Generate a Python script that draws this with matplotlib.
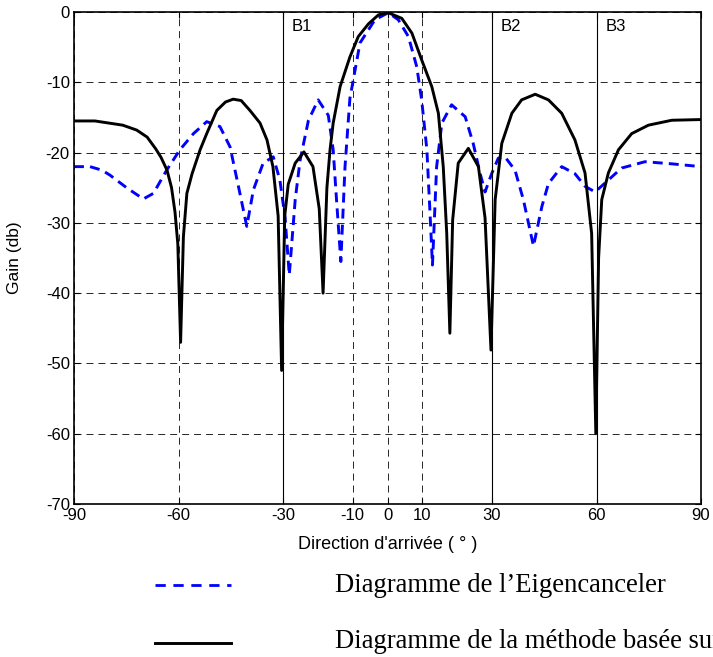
import matplotlib
matplotlib.use("Agg")
import matplotlib.pyplot as plt
from matplotlib.lines import Line2D

plt.rcParams['axes.unicode_minus'] = False

# angles (deg) and gain (dB)
black_deg = [-90, -84, -80, -76, -72, -69, -66.5, -65, -63.3, -62, -61, -60.2, -59.4, -58.6,
             -57.6, -56.1, -53.8, -51.9, -49, -46.5, -44.3, -42, -39.5, -36.6, -34.6, -32.9,
             -31.4, -30.4, -29.5, -28.5, -26.5, -24, -21.4, -19.6, -18.5, -17.4, -16.5, -15.6,
             -13.6, -10.8, -8.4, -5.5, -2.6, 0.2, 4.1, 7.0, 9.8, 12.7, 14.6, 16.0, 17.0, 17.9,
             18.7, 20.3, 23.2, 26.1, 28.0, 29.7, 30.9, 32.8, 35.7, 38.5, 42.4, 46.2, 50.0,
             53.8, 56.7, 58.6, 59.8, 60.6, 61.5, 63.4, 66.3, 70.1, 74.9, 81.6, 90]
black_db = [-15.5, -15.5, -15.8, -16.1, -16.8, -17.8, -19.5, -20.7, -22.5, -25, -28.5, -33, -47,
            -32, -25.8, -23, -19.6, -17.3, -14, -12.8, -12.4, -12.6, -14, -15.8, -18.2, -22,
            -29, -51, -29, -24.5, -21.5, -19.9, -22, -28, -40, -25, -19.6, -15.8,
            -10.6, -6.4, -3.5, -1.7, -0.4, -0.1, -0.9, -3, -6.8, -10.6, -14.4, -22, -31.5, -45.7,
            -29.6, -21.5, -19.4, -22, -29.3, -48.1, -26.7, -18.7, -14.4, -12.5, -11.7, -12.5, -14.4,
            -18.2, -22.9, -31.5, -60, -35, -26.7, -22.9, -19.6, -17.3, -16.1, -15.4, -15.3]

blue_deg = [-90, -85.4, -82, -79.7, -74.9, -70.1, -67.2, -63.4, -59.6, -55.7, -51.9, -48.1,
            -45.2, -42.8, -40.4, -38.5, -35.7, -32.8, -30.9, -29.4, -28.2, -26.5, -25.1, -22.7,
            -19.9, -17, -15.6, -14.6, -13.4, -12.2, -10.8, -7.9, -3.6, 0.2, 3.1, 6.0, 8.4, 9.8,
            11.3, 12.2, 12.9, 14.1, 15.6, 18.4, 22.3, 24.6, 26.6, 28, 29.9, 31.8, 33.7, 36.6,
            39, 41.9, 44.3, 46.2, 50, 53.8, 56.7, 59.6, 63.4, 67.2, 73.9, 81.6, 90]
blue_db = [-22, -22, -22.5, -23.2, -25, -26.6, -25.8, -22.5, -19.6, -17.3, -15.6, -16.3,
           -19.2, -24.8, -30.5, -25.3, -21.5, -20.6, -23.9, -29.3, -37.4, -26.7, -21.1, -15.4,
           -12.5, -14.7, -19.6, -27, -35.5, -22, -12.3, -4.4, -1.1, -0.1, -1.1, -3.5, -7.8, -12.5,
           -19.6, -28.6, -36, -22, -15.8, -13.2, -14.9, -18.7, -23, -25.6, -23, -20.8, -20.6, -22.5,
           -26.7, -33.3, -27.7, -24.4, -22, -23, -24.8, -25.6, -23.9, -22.2, -21.3, -21.6, -22]

beam_deg = [-30, 30, 60]
beam_names = ["B1", "B2", "B3"]
xticks = [-90, -60, -30, -10, 0, 10, 30, 60, 90]
yticks = [0, -10, -20, -30, -40, -50, -60, -70]
legend_labels = ["Diagramme de l\u2019Eigencanceler",
                 "Diagramme de la méthode basée sur"]

sans = "Liberation Sans"
serif = "Liberation Serif"

fig = plt.figure(figsize=(7.13, 6.57), dpi=100)
ax = fig.add_axes([0.1038, 0.2329, 0.8794, 0.7488])

ax.plot(blue_deg, blue_db, color="#0000ff", lw=2.1, linestyle=(0, (3.4, 2.1)))
ax.plot(black_deg, black_db, color="black", lw=2.1)

for b, name in zip(beam_deg, beam_names):
    ax.axvline(b, color="black", lw=0.8)
    ax.text(b + 2.6, -2.1, name, fontsize=12, family=sans, ha="left", va="center")

ax.set_xlim(-90, 90)
ax.set_ylim(-70, 0)
ax.set_xticks(xticks)
ax.set_yticks(yticks)
ax.grid(True, color="black", lw=0.7, linestyle=(0, (7.2, 5.1)), alpha=0.85)
ax.tick_params(direction="in", length=4, top=True, right=True, labelsize=12, pad=3)
for lab in ax.get_xticklabels() + ax.get_yticklabels():
    lab.set_family(sans)
for s in ax.spines.values():
    s.set_linewidth(1.2)

ax.set_ylabel("Gain (db)", fontsize=12.5, family=sans)
ax.yaxis.set_label_coords(-0.083, 0.5)
ax.set_xlabel("Direction d'arrivée ( ° )", fontsize=13, family=sans)
ax.xaxis.set_label_coords(0.5, -0.066)

# legend drawn below the axes, as in the source figure
fig.add_artist(Line2D([0.2174, 0.324], [0.110, 0.110], color="#0000ff", lw=2.0,
                      linestyle=(0, (3.7, 2.75))))
fig.add_artist(Line2D([0.2174, 0.324], [0.0218, 0.0218], color="black", lw=2.1))
fig.text(0.4698, 0.0985, legend_labels[0], fontsize=19.2, family=serif, va="baseline")
fig.text(0.4698, 0.0132, legend_labels[1], fontsize=19.2, family=serif, va="baseline")

fig.savefig("out.png", dpi=100)
